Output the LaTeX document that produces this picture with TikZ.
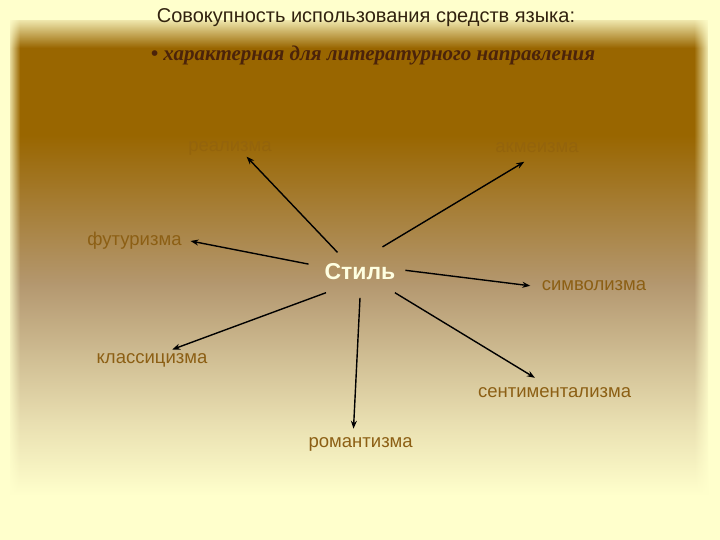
\documentclass[tikz,border=0pt]{standalone}
\usepackage{fontspec}
\setmainfont{Liberation Sans}
\newfontfamily\corsiva{Liberation Serif}
\usetikzlibrary{arrows.meta,fadings}
\definecolor{cream}{RGB}{255,255,204}
\definecolor{brownA}{RGB}{153,102,0}
\definecolor{gB}{RGB}{163,120,41}
\definecolor{gC}{RGB}{180,152,112}
\definecolor{gD}{RGB}{205,186,144}
\definecolor{gE}{RGB}{232,222,176}
\definecolor{titlec}{RGB}{50,35,15}
\definecolor{subc}{RGB}{75,35,10}
\definecolor{labelc}{RGB}{140,95,20}
\definecolor{faintc}{RGB}{148,100,12}
\definecolor{stilc}{RGB}{255,255,225}
\tikzfading[name=fadeR, left color=transparent!0, right color=transparent!100]
\tikzfading[name=fadeL, left color=transparent!100, right color=transparent!0]
\tikzfading[name=fadeD, top color=transparent!0, bottom color=transparent!100]
\begin{document}
\begin{tikzpicture}[x=1pt,y=-1pt,
  lbl/.style={font=\fontsize{18.5}{20}\selectfont, text=labelc, inner sep=0pt},
  faint/.style={font=\fontsize{18.5}{20}\selectfont, text=faintc, inner sep=0pt},
  arr/.style={-{Stealth[length=8pt,width=6pt]}, line width=1.4pt, black}]
\useasboundingbox (0,0) rectangle (720,540);
% background
\fill[cream] (0,0) rectangle (720,540);
\fill[brownA] (10,20) rectangle (708,136);
\fill[top color=brownA, bottom color=gB] (10,135) rectangle (708,191);
\fill[top color=gB, bottom color=gC] (10,190) rectangle (708,286);
\fill[top color=gC, bottom color=gD] (10,285) rectangle (708,351);
\fill[top color=gD, bottom color=gE] (10,350) rectangle (708,421);
\fill[top color=gE, bottom color=cream] (10,420) rectangle (708,496);
% soft frame edges
\fill[cream] (0,0) rectangle (720,16);
\fill[cream, path fading=fadeD] (0,15) rectangle (720,48);
\fill[cream] (0,0) rectangle (8,540);
\fill[cream, path fading=fadeR] (7,0) rectangle (20,540);
\fill[cream] (709,0) rectangle (720,540);
\fill[cream, path fading=fadeL] (694,0) rectangle (710,540);
% texts
\node[font=\fontsize{20}{24}\selectfont, text=titlec, inner sep=0pt] (title) at (366,18) {Совокупность использования средств языка:};
\node[font=\corsiva\bfseries\itshape\fontsize{21}{26}\selectfont, text=subc, inner sep=0pt] (sub) at (373,55) {• характерная для литературного направления};
\node[font=\bfseries\fontsize{23}{26}\selectfont, text=stilc, inner sep=0pt] (stil) at (360,272) {Стиль};
\node[faint] (real) at (230,148) {реализма};
\node[faint] (akm) at (537,148) {акмеизма};
\node[lbl] (fut) at (134.5,241) {футуризма};
\node[lbl] (sim) at (594,286) {символизма};
\node[lbl] (kla) at (152,360) {классицизма};
\node[lbl] (sen) at (554.6,393) {сентиментализма};
\node[lbl] (rom) at (360.7,444) {романтизма};
% arrow ends
\coordinate (t1) at (337.5,252.4); \coordinate (h1) at (246.6,156.7);
\coordinate (t2) at (382.5,246.9); \coordinate (h2) at (524.3,161.8);
\coordinate (t3) at (308.5,264.1); \coordinate (h3) at (190.5,241.0);
\coordinate (t4) at (405.4,270.3); \coordinate (h4) at (530.3,285.8);
\coordinate (t5) at (326.0,292.7); \coordinate (h5) at (172.2,349.5);
\coordinate (t6) at (360.0,297.9); \coordinate (h6) at (353.5,428.7);
\coordinate (t7) at (394.9,292.7); \coordinate (h7) at (534.9,377.8);
\draw[arr] (t1) -- (h1);
\draw[arr] (t2) -- (h2);
\draw[arr] (t3) -- (h3);
\draw[arr] (t4) -- (h4);
\draw[arr] (t5) -- (h5);
\draw[arr] (t6) -- (h6);
\draw[arr] (t7) -- (h7);
\end{tikzpicture}
\end{document}
